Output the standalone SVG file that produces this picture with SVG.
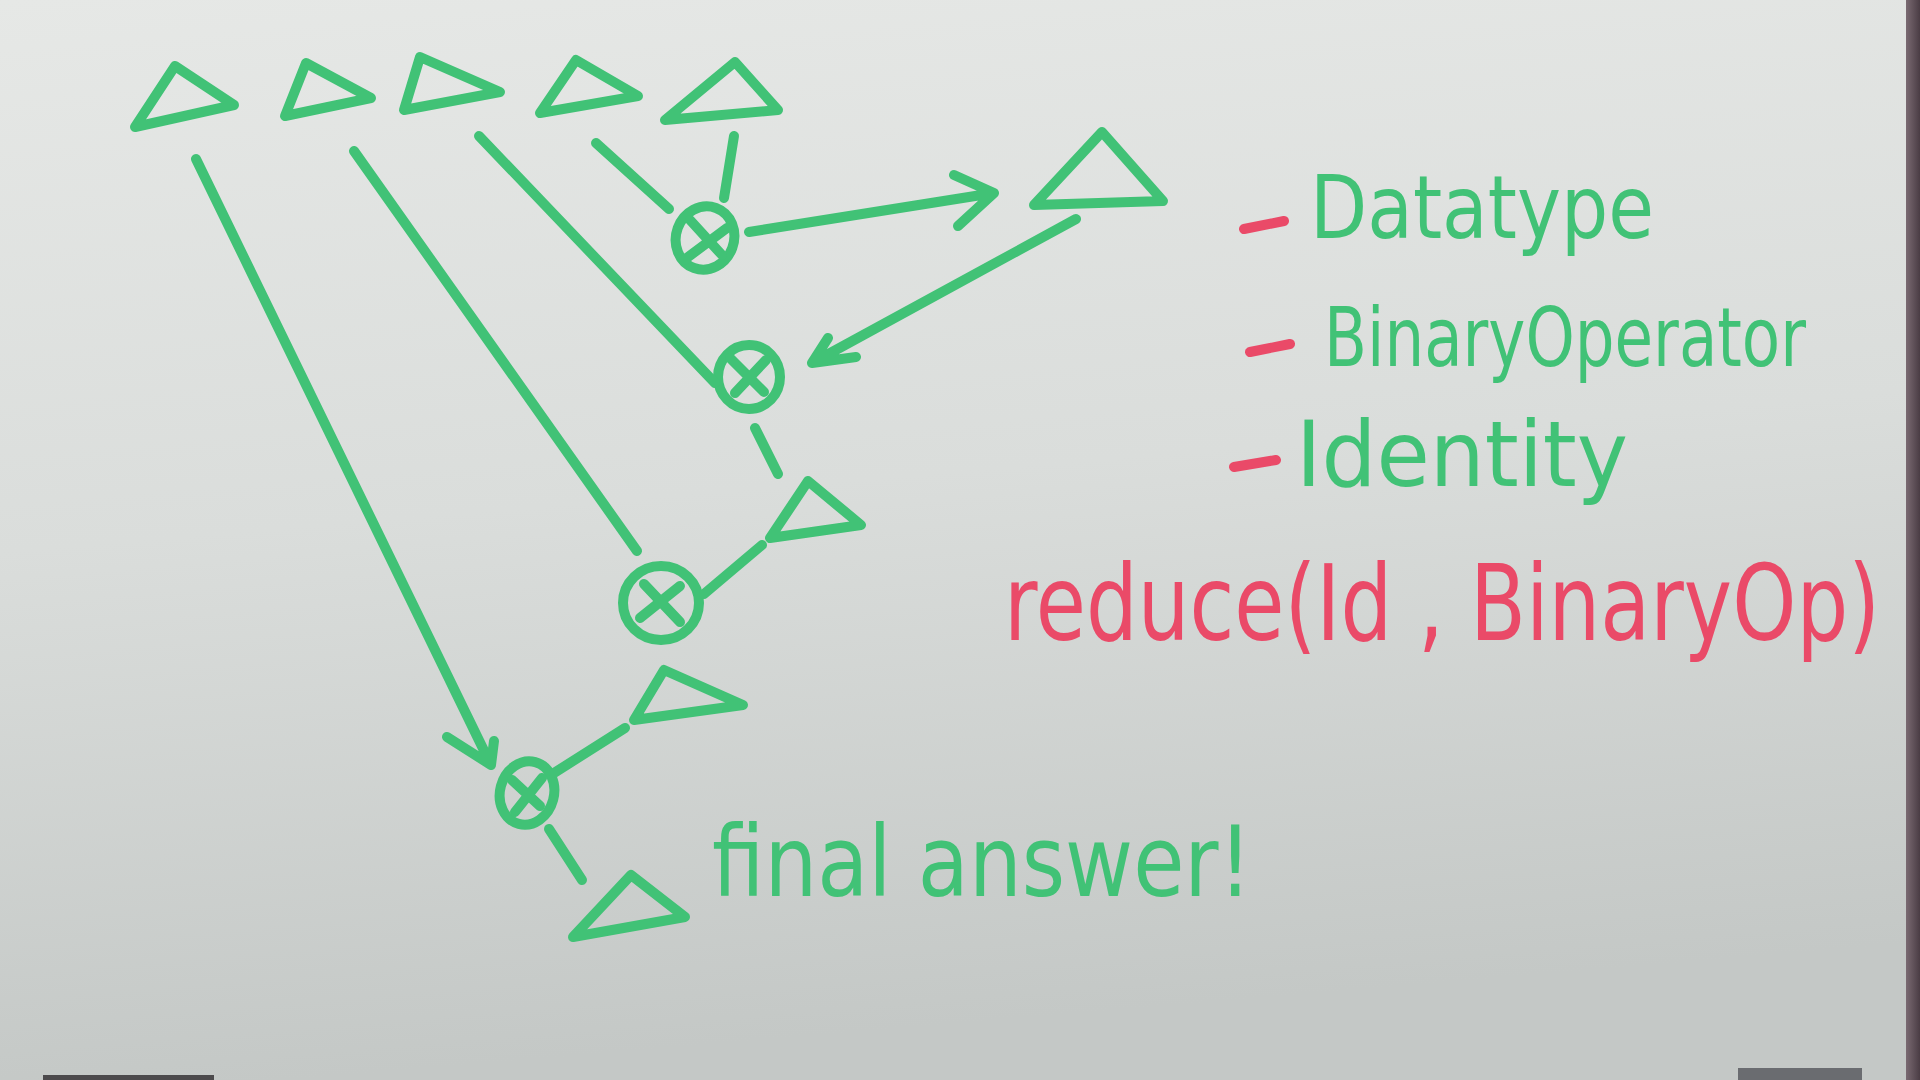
<svg xmlns="http://www.w3.org/2000/svg" width="1920" height="1080" viewBox="0 0 1920 1080">
<defs>
<linearGradient id="board" x1="0" y1="0" x2="0.15" y2="1">
<stop offset="0" stop-color="#e6e8e6"/>
<stop offset="0.5" stop-color="#dadddb"/>
<stop offset="1" stop-color="#c4c8c6"/>
</linearGradient>
<linearGradient id="frame" x1="0" y1="0" x2="1" y2="0">
<stop offset="0" stop-color="#7a6a72"/>
<stop offset="1" stop-color="#4a3c44"/>
</linearGradient>
</defs>
<style>
.g{fill:none;stroke:#41c276;stroke-width:10;stroke-linecap:round;stroke-linejoin:round}
.gt{fill:#41c276;font-family:"DejaVu Sans","Liberation Sans",sans-serif}
.rt{fill:#ea4a68;font-family:"DejaVu Sans","Liberation Sans",sans-serif}
.rd{fill:none;stroke:#ea4a68;stroke-width:10;stroke-linecap:round}
</style>
<rect x="0" y="0" width="1920" height="1080" fill="url(#board)"/>
<rect x="1906" y="0" width="14" height="1080" fill="url(#frame)"/>
<rect x="43" y="1075" width="171" height="5" fill="#4c4a4c"/>
<rect x="1738" y="1068" width="124" height="12" fill="#6a6c70"/>

<g id="t1"><path class="g" d="M175,66 L135,127 L234,105 Z"/></g>
<g id="t2"><path class="g" d="M306,63 L285,116 L371,98 Z"/></g>
<g id="t3"><path class="g" d="M420,57 L404,110 L500,92 Z"/></g>
<g id="t4"><path class="g" d="M576,60 L540,113 L638,96 Z"/></g>
<g id="t5"><path class="g" d="M735,62 L665,120 L778,110 Z"/></g>
<g id="t6"><path class="g" d="M1102,132 L1034,205 L1163,201 Z"/></g>
<g id="t7"><path class="g" d="M808,481 L770,538 L861,525 Z"/></g>
<g id="t8"><path class="g" d="M664,670 L634,720 L743,705 Z"/></g>
<g id="t9"><path class="g" d="M631,875 L573,937 L685,917 Z"/></g>

<g id="c1"><ellipse class="g" cx="705" cy="238" rx="29" ry="32" transform="rotate(20 705 238)"/><path class="g" d="M690,220 L722,255 M727,228 L684,260"/></g>
<g id="c2"><ellipse class="g" cx="749" cy="377" rx="31" ry="32"/><path class="g" d="M730,358 L764,392 M766,360 L735,393"/></g>
<g id="c3"><ellipse class="g" cx="661" cy="603" rx="38" ry="37"/><path class="g" d="M644,584 L680,622 M680,586 L640,618"/></g>
<g id="c4"><ellipse class="g" cx="527" cy="793" rx="27" ry="32" transform="rotate(15 527 793)"/><path class="g" d="M512,780 L540,806 M542,778 L515,812"/></g>

<g id="connectors">
<path class="g" d="M196,159 L491,765 M447,737 L491,765 L494,741"/>
<path class="g" d="M354,151 L637,551"/>
<path class="g" d="M479,136 L715,383"/>
<path class="g" d="M596,143 L669,209"/>
<path class="g" d="M734,136 L724,198"/>
<path class="g" d="M749,232 L994,193 M954,175 L994,193 L958,226"/>
<path class="g" d="M1076,219 L812,363 M828,338 L812,363 L856,357"/>
<path class="g" d="M755,428 L778,474"/>
<path class="g" d="M704,594 L762,545"/>
<path class="g" d="M554,773 L625,728"/>
<path class="g" d="M549,829 L582,880"/>
</g>

<g id="labels">
<path class="rd" d="M1244,229 L1284,221"/>
<text class="gt" x="1310" y="238" font-size="88" textLength="344" lengthAdjust="spacingAndGlyphs">Datatype</text>
<path class="rd" d="M1250,352 L1290,344"/>
<text class="gt" x="1324" y="366" font-size="82" textLength="482" lengthAdjust="spacingAndGlyphs">BinaryOperator</text>
<path class="rd" d="M1234,467 L1276,460"/>
<text class="gt" x="1296" y="486" font-size="90" textLength="332" lengthAdjust="spacingAndGlyphs">Identity</text>
<text class="rt" x="1004" y="640" font-size="106" textLength="876" lengthAdjust="spacingAndGlyphs">reduce(Id , BinaryOp)</text>
<text class="gt" x="712" y="896" font-size="98" textLength="540" lengthAdjust="spacingAndGlyphs">final answer!</text>
</g>
</svg>
